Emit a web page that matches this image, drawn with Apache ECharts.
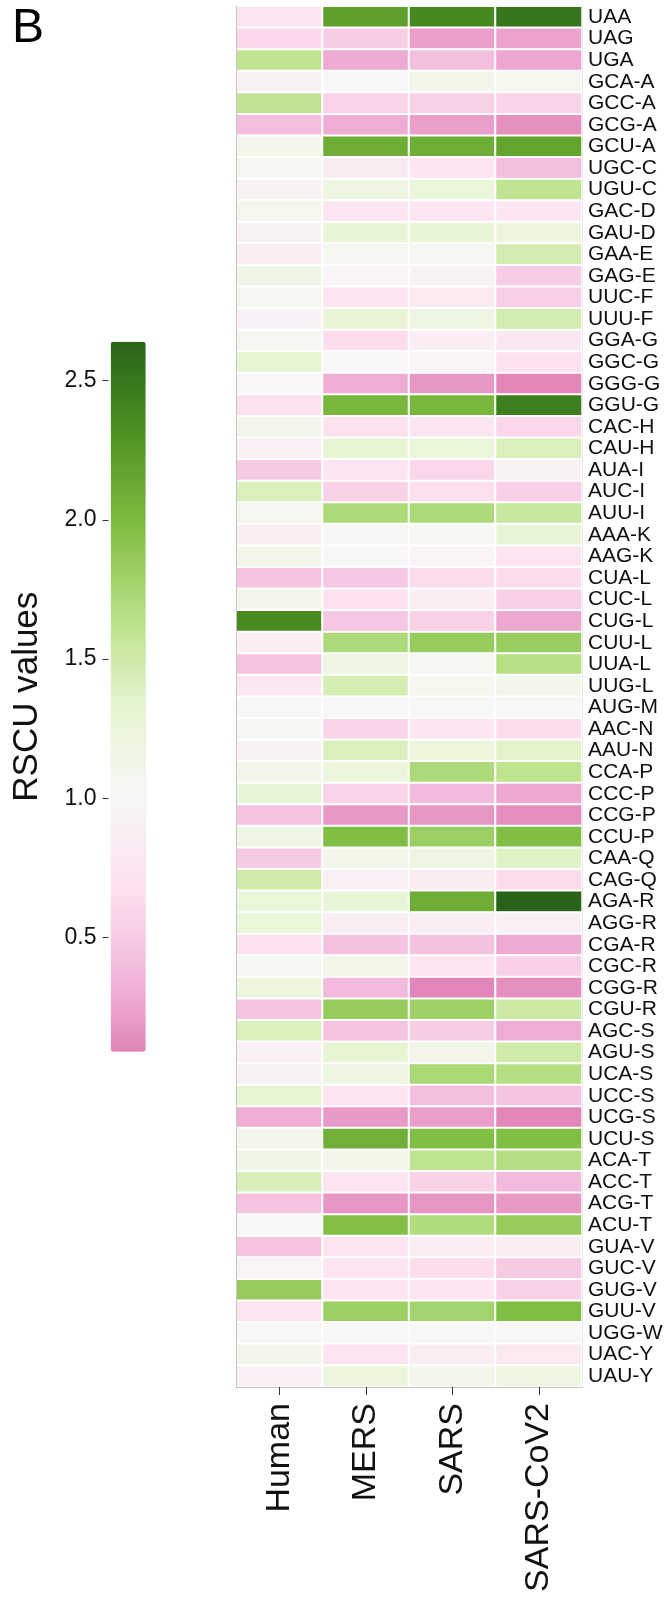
<!DOCTYPE html>
<html>
<head>
<meta charset="utf-8">
<script src="https://cdn.jsdelivr.net/npm/echarts/dist/echarts.min.js"></script>
<style>
html,body{margin:0;padding:0;background:#fff;}
#chart{width:667px;height:1604px;}
</style>
</head>
<body>
<div id="chart"></div>
<script>
const columns = ['Human', 'MERS', 'SARS', 'SARS-CoV2'];

const codons = ['UAA','UAG','UGA','GCA-A','GCC-A','GCG-A','GCU-A','UGC-C','UGU-C','GAC-D','GAU-D','GAA-E','GAG-E','UUC-F','UUU-F','GGA-G','GGC-G','GGG-G','GGU-G','CAC-H','CAU-H','AUA-I','AUC-I','AUU-I','AAA-K','AAG-K','CUA-L','CUC-L','CUG-L','CUU-L','UUA-L','UUG-L','AUG-M','AAC-N','AAU-N','CCA-P','CCC-P','CCG-P','CCU-P','CAA-Q','CAG-Q','AGA-R','AGG-R','CGA-R','CGC-R','CGG-R','CGU-R','AGC-S','AGU-S','UCA-S','UCC-S','UCG-S','UCU-S','ACA-T','ACC-T','ACG-T','ACU-T','GUA-V','GUC-V','GUG-V','GUU-V','UGG-W','UAC-Y','UAU-Y'];

const human = [0.75,0.60,1.60, 0.92,1.60,0.40,1.10, 1.07,0.93, 1.08,0.93, 0.86,1.13, 1.07,0.93, 1.07,1.30,1.00,0.68, 1.10,0.88, 0.50,1.42,1.07, 0.87,1.10, 0.46,1.10,2.35,0.86,0.45,0.78, 1.00, 1.05,0.93, 1.10,1.28,0.45,1.15, 0.50,1.50, 1.25,1.25,0.68,1.04,1.22,0.46, 1.42,0.88,0.93,1.30,0.30,1.10, 1.15,1.43,0.44,1.00, 0.46,0.94,1.85,0.72, 1.00, 1.10,0.90];

const mers = [2.20,0.52,0.28, 1.00,0.58,0.30,2.10, 0.82,1.18, 0.72,1.28, 1.06,0.94, 0.74,1.26, 0.65,1.00,0.30,2.03, 0.68,1.30, 0.75,0.56,1.72, 1.02,1.00, 0.47,0.68,0.47,1.72,1.18,1.45, 1.00, 0.58,1.42, 1.22,0.58,0.19,1.97, 1.12,0.88, 1.28,0.86,0.43,1.12,0.38,1.85, 0.45,1.30,1.20,0.72,0.19,2.08, 1.12,0.72,0.17,1.96, 0.72,0.72,0.72,1.82, 1.00, 0.72,1.22];

const sars = [2.38,0.22,0.42, 1.12,0.55,0.22,2.10, 0.72,1.25, 0.72,1.28, 1.05,0.92, 0.80,1.18, 0.86,0.95,0.18,2.03, 0.75,1.25, 0.60,0.67,1.72, 1.04,0.94, 0.63,0.85,0.56,1.85,1.05,1.08, 1.00, 0.74,1.23, 1.72,0.38,0.17,1.82, 1.17,0.82, 2.10,0.86,0.43,0.73,0.09,1.80, 0.52,1.12,1.74,0.41,0.22,1.97, 1.61,0.56,0.17,1.70, 0.86,0.65,0.75,1.78, 1.00, 0.87,1.10];

const cov2 = [2.52,0.25,0.26, 1.08,0.57,0.15,2.17, 0.40,1.60, 0.76,1.22, 1.48,0.52, 0.53,1.48, 0.78,0.68,0.10,2.45, 0.60,1.42, 0.93,0.54,1.55, 1.27,0.72, 0.65,0.54,0.27,1.83,1.66,1.10, 1.00, 0.65,1.36, 1.61,0.27,0.13,1.97, 1.37,0.63, 2.64,0.88,0.28,0.54,0.15,1.52, 0.30,1.50,1.67,0.44,0.10,1.97, 1.68,0.38,0.19,1.85, 0.87,0.50,0.56,1.98, 1.00, 0.80,1.20];

const legendTicks = [0.5, 1.0, 1.5, 2.0, 2.5];

// PiYG palette anchored with white at RSCU = 1 (styling only)
const paletteStops = [
  [0.016, [222,119,174]],
  [0.344, [241,182,218]],
  [0.672, [253,224,239]],
  [1.000, [247,247,247]],
  [1.328, [230,245,208]],
  [1.656, [184,225,134]],
  [1.984, [127,188,65]],
  [2.312, [77,146,33]],
  [2.640, [39,100,25]]
];
function colorAt(v) {
  if (v <= paletteStops[0][0]) return paletteStops[0][1];
  for (let i = 1; i < paletteStops.length; i++) {
    if (v <= paletteStops[i][0]) {
      const a = paletteStops[i-1], b = paletteStops[i];
      const t = (v - a[0]) / (b[0] - a[0]);
      return a[1].map((c, k) => Math.round(c + (b[1][k] - c) * t));
    }
  }
  return paletteStops[paletteStops.length-1][1];
}

const seriesCols = [human, mers, sars, cov2];
const data = [];
seriesCols.forEach((col, xi) => col.forEach((v, yi) => data.push([xi, yi, v])));
const allVals = [].concat(human, mers, sars, cov2);
const vmin = Math.min.apply(null, allVals);
const vmax = Math.max.apply(null, allVals);

const colorList = [];
const N = 80;
for (let i = 0; i <= N; i++) {
  const v = vmin + (vmax - vmin) * i / N;
  const c = colorAt(v);
  colorList.push('rgb(' + c.join(',') + ')');
}

const FONT = 'Liberation Sans, Arial, Helvetica, sans-serif';

const chart = echarts.init(document.getElementById('chart'), null, {renderer: 'canvas'});
chart.setOption({
  animation: false,
  backgroundColor: '#ffffff',
  title: {
    text: 'B', left: 7, top: 0,
    textStyle: {fontSize: 48, fontWeight: 'normal', fontFamily: FONT, color: '#000'}
  },
  grid: [
    {left: 236, top: 6.3, width: 346, height: 1380.7},
    {left: 108.5, top: 341.7, width: 2, height: 710}
  ],
  xAxis: [
    {
      type: 'category', data: columns, gridIndex: 0, position: 'bottom', z: 5,
      axisLine: {show: true, lineStyle: {color: '#c4c4c4', width: 1}},
      axisTick: {show: true, alignWithLabel: true, length: 8, lineStyle: {color: '#333'}},
      axisLabel: {rotate: 90, margin: 16, fontSize: 34, fontFamily: FONT, color: '#111', interval: 0},
      splitLine: {show: false}
    },
    {type: 'category', gridIndex: 1, data: [''], show: false}
  ],
  yAxis: [
    {
      type: 'category', data: codons, inverse: true, gridIndex: 0, position: 'left', z: 5,
      axisLine: {show: true, lineStyle: {color: '#c4c4c4', width: 1}},
      axisTick: {show: false}, axisLabel: {show: false}, splitLine: {show: false}
    },
    {
      type: 'category', data: codons, inverse: true, gridIndex: 0, position: 'right', z: 5,
      axisLine: {show: true, lineStyle: {color: '#ebebeb', width: 1}},
      axisTick: {show: false},
      axisLabel: {margin: 6, fontSize: 21, fontFamily: FONT, color: '#111', interval: 0},
      splitLine: {show: false}
    },
    {
      type: 'value', gridIndex: 1, min: vmin, max: vmax, position: 'left',
      axisLine: {show: false}, splitLine: {show: false},
      axisTick: {show: true, length: 6, customValues: legendTicks, lineStyle: {color: '#333'}},
      axisLabel: {customValues: legendTicks, formatter: v => Number(v).toFixed(1), margin: 12, fontSize: 23, fontFamily: FONT, color: '#111'},
      name: 'RSCU values', nameLocation: 'middle', nameRotate: 90, nameGap: 64,
      nameTextStyle: {fontSize: 35, fontFamily: FONT, color: '#111'}
    }
  ],
  visualMap: {
    type: 'continuous', min: vmin, max: vmax, seriesIndex: 0, dimension: 2,
    left: 110.7, top: 341.7, itemWidth: 35, itemHeight: 710, padding: 0,
    calculable: false, hoverLink: false,
    inRange: {color: colorList}
  },
  series: [{
    type: 'heatmap', data: data, xAxisIndex: 0, yAxisIndex: 0,
    itemStyle: {borderColor: '#ffffff', borderWidth: 2},
    emphasis: {disabled: true}
  }]
});
</script>
</body>
</html>
